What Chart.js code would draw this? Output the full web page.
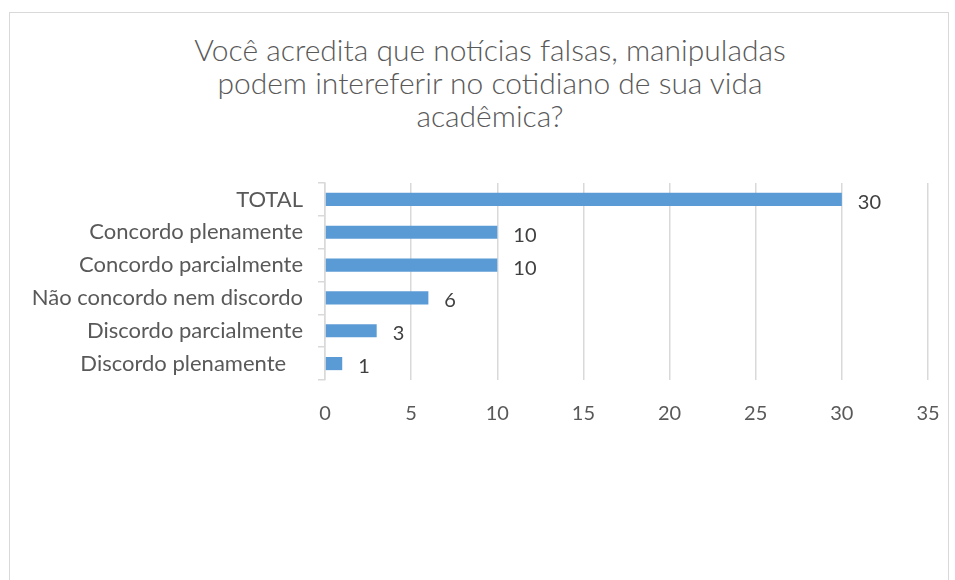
<!DOCTYPE html>
<html lang="pt">
  <head>
    <meta charset="UTF-8" />
    <title>Notícias falsas</title>
    <script src="https://cdn.jsdelivr.net/npm/chart.js@4.4.0/dist/chart.umd.min.js"></script>
    <style>
      html,
      body {
        margin: 0;
        padding: 0;
        background: #fff;
        overflow: hidden;
        font-family: Lato, "Open Sans", sans-serif;
      }
      .moldura {
        position: absolute;
        left: 9px;
        top: 12px;
        width: 940px;
        height: 620px;
        border: 1.5px solid #d9d9d9;
        box-sizing: border-box;
      }
      .titulo {
        position: absolute;
        left: 0;
        top: 33px;
        width: 980px;
        text-align: center;
        font-size: 30px;
        font-weight: 300;
        line-height: 33px;
        color: #595959;
      }
      .grafico {
        position: absolute;
        left: 0;
        top: 0;
        width: 955px;
        height: 580px;
      }
    </style>
  </head>
  <body>
    <div class="moldura"></div>
    <div class="titulo">
      Você acredita que notícias falsas, manipuladas<br />
      podem intereferir no cotidiano de sua vida<br />
      acadêmica?
    </div>
    <div class="grafico"><canvas id="mychart"></canvas></div>

    <script>
      // respostas (de cima para baixo) e quantidade de alunos
      const respostas = [
        "TOTAL",
        "Concordo plenamente",
        "Concordo parcialmente",
        "Não concordo nem discordo",
        "Discordo parcialmente",
        "Discordo plenamente   ",
      ];
      const quantidade = [30, 10, 10, 6, 3, 1];
      const eixoX = { min: 0, max: 35, passo: 5 };

      const fonte = "Lato, 'Open Sans', sans-serif";

      // escreve o valor ao lado de cada barra
      const rotulos = {
        id: "rotulos",
        afterDatasetsDraw(chart) {
          const ctx = chart.ctx;
          const meta = chart.getDatasetMeta(0);
          ctx.save();
          ctx.font = "20px " + fonte;
          ctx.fillStyle = "#404040";
          ctx.textAlign = "left";
          ctx.textBaseline = "middle";
          meta.data.forEach((bar, i) => {
            ctx.fillText(String(quantidade[i]), bar.x + 16, bar.y + 3);
          });
          ctx.restore();
        },
      };

      new Chart(document.getElementById("mychart"), {
        type: "bar",
        data: {
          labels: respostas,
          datasets: [
            {
              label: "Alunos",
              data: quantidade,
              backgroundColor: "#5b9bd5",
              borderWidth: 0,
              barPercentage: 0.4,
              categoryPercentage: 1,
            },
          ],
        },
        options: {
          indexAxis: "y",
          responsive: true,
          maintainAspectRatio: false,
          animation: false,
          layout: {
            padding: { left: 0, right: 27, top: 183, bottom: 0 },
          },
          plugins: {
            legend: { display: false },
            tooltip: { enabled: false },
          },
          scales: {
            x: {
              min: eixoX.min,
              max: eixoX.max,
              ticks: {
                stepSize: eixoX.passo,
                color: "#595959",
                font: { family: fonte, size: 20 },
                padding: 22,
              },
              grid: {
                color: "#d9d9d9",
                lineWidth: 1.5,
                drawTicks: false,
              },
              border: { display: false },
              afterFit(scale) {
                scale.height = 200;
                // a margem do layout já basta para o último rótulo
                scale.paddingLeft = 0;
                scale.paddingRight = 0;
              },
            },
            y: {
              ticks: {
                color: "#595959",
                font: { family: fonte, size: 22 },
                padding: 15,
              },
              grid: {
                offset: true,
                drawOnChartArea: false,
                drawTicks: true,
                tickLength: 7,
                color: "#d9d9d9",
                lineWidth: 1.5,
              },
              border: { display: true, color: "#d9d9d9", width: 1.5 },
              afterFit(scale) {
                scale.width = 325;
              },
            },
          },
        },
        plugins: [rotulos],
      });
    </script>
  </body>
</html>
